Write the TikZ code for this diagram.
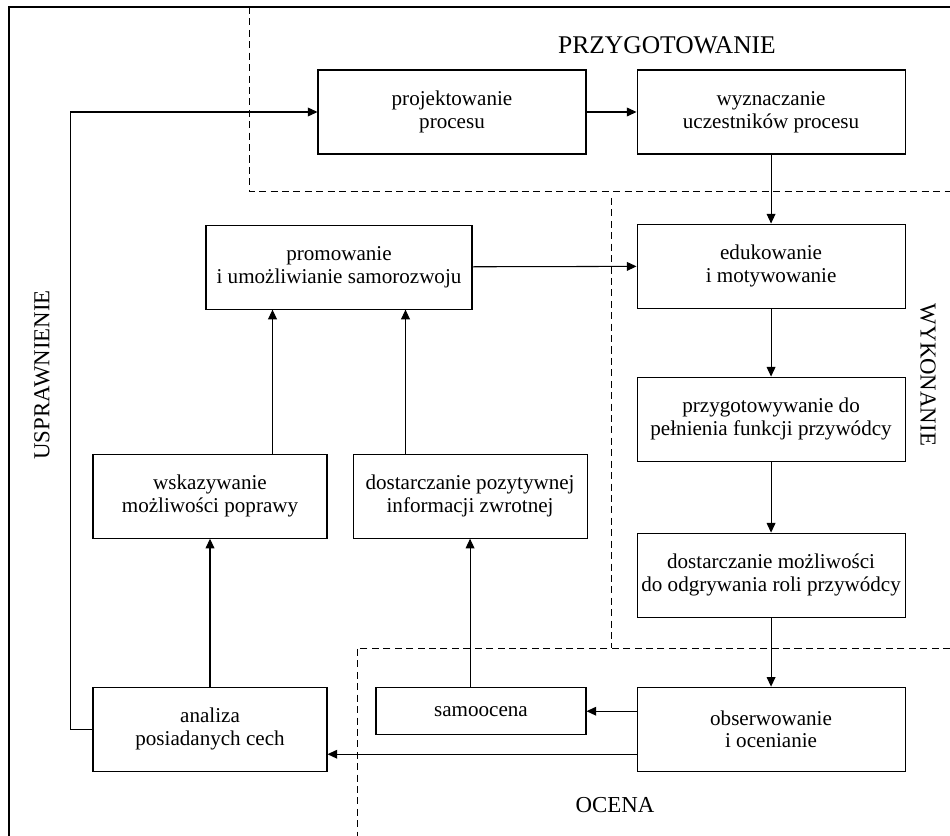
\documentclass[tikz,border=0pt]{standalone}
\usepackage{fontspec}
\setmainfont{Liberation Serif}
\usetikzlibrary{arrows.meta, positioning}
\tikzset{
    stage/.style={
        rectangle, draw=black, line width=0.6pt,
        minimum width=5.36cm, minimum height=1.68cm,
        inner sep=1pt, align=center, fill=white,
        font=\fontsize{12}{13}\selectfont
    },
    wire/.style={draw=black, line width=0.6pt, -{Triangle[length=5.5pt, width=5pt]}},
    zone/.style={draw=black, line width=0.5pt, dash pattern=on 4pt off 2.5pt},
    frame/.style={draw=black, line width=0.7pt},
    zonelabel/.style={font=\fontsize{13}{15}\selectfont}
}

\begin{document}
\begin{tikzpicture}
\useasboundingbox (0,0) rectangle (19,-16.72);

% Frame and phase zones
\draw[frame] (0.18,-16.72) -- (0.18,-0.14) -- (19,-0.14);
\draw[zone] (4.98,-0.14) -- (4.98,-3.82) -- (19,-3.82);
\draw[zone] (12.22,-3.96) -- (12.22,-12.96);
\draw[zone] (19,-12.96) -- (7.14,-12.96) -- (7.14,-16.72);

\node[zonelabel, font=\fontsize{14.5}{16}\selectfont] (przyg) at (13.34,-0.9) {PRZYGOTOWANIE};
\node[zonelabel, rotate=-90] (wykon) at (18.56,-7.5) {WYKONANIE};
\node[zonelabel, rotate=90] (uspraw) at (0.84,-7.5) {USPRAWNIENIE};
\node[zonelabel] (ocena) at (12.3,-16.1) {OCENA};

% Preparation (top row)
\node[stage] (proj) at (9.04,-2.24) {projektowanie\\procesu};
\node[stage, right=1cm of proj] (wyzn) {wyznaczanie\\uczestników procesu};

% Execution (right column)
\node[stage, below=1.38cm of wyzn] (edu) {edukowanie\\i motywowanie};
\node[stage, below=1.36cm of edu] (przyg) {przygotowywanie do\\pełnienia funkcji przywódcy};
\node[stage, below=1.42cm of przyg] (dostm) {dostarczanie możliwości\\do odgrywania roli przywódcy};
\node[stage, below=1.38cm of dostm] (obs) {obserwowanie\\i ocenianie};

% Evaluation and improvement (left)
\node[stage, left=1cm of obs, yshift=0.36cm, minimum width=4.2cm, minimum height=0.94cm] (samo) {samoocena};
\node[stage, left=6.18cm of obs, minimum width=4.68cm] (analiza) {analiza\\posiadanych cech};
\node[stage, above=2.96cm of analiza, minimum width=4.68cm] (wsk) {wskazywanie\\możliwości poprawy};
\node[stage, right=0.5cm of wsk, minimum width=4.68cm] (dostp) {dostarczanie pozytywnej\\informacji zwrotnej};
\node[stage, above=2.88cm of wsk, xshift=2.58cm, minimum width=5.32cm] (prom) {promowanie\\i umożliwianie samorozwoju};

% Main flow
\draw[wire] (proj) -- (wyzn);
\draw[wire] (wyzn) -- (edu);
\draw[wire] (edu) -- (przyg);
\draw[wire] (przyg) -- (dostm);
\draw[wire] (dostm) -- (obs);

% Evaluation
\draw[wire] (obs.west |- samo.east) -- (samo.east);
\draw[wire] ([yshift=-0.5cm]obs.west) -- ([yshift=-0.5cm]analiza.east);
\draw[wire] (samo.north -| dostp) -- (dostp.south);
\draw[wire] (analiza) -- (wsk);

% Improvement
\draw[wire] ([xshift=-1.33cm]prom.south |- wsk.north) -- ([xshift=-1.33cm]prom.south);
\draw[wire] ([xshift=1.33cm]prom.south |- dostp.north) -- ([xshift=1.33cm]prom.south);
\draw[wire] (prom) -- (edu);
\draw[wire] (analiza.west) -- ++(-0.44,0) |- (proj.west);

\end{tikzpicture}
\end{document}
